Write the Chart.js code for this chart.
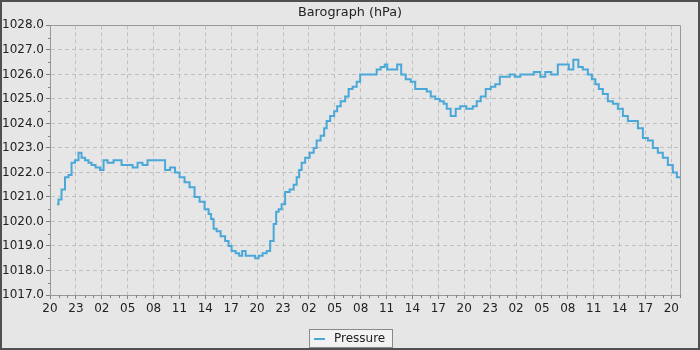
<!DOCTYPE html>
<html>
<head>
<meta charset="utf-8">
<script src="https://cdn.jsdelivr.net/npm/chart.js@4.4.1/dist/chart.umd.min.js"></script>
<style>
  html, body { margin: 0; padding: 0; background: #e6e6e6; }
  canvas { display: block; }
</style>
</head>
<body>
<canvas id="c" width="700" height="350"></canvas>
<script>
// Hours elapsed since the first axis tick (20:00)
const hours = [
  0.81, 1.16, 1.51, 1.97, 2.32, 2.67, 3.13, 3.48, 3.83, 4.29, 4.64, 4.99, 5.57, 6.03, 6.38, 6.96,
  7.77, 8.12, 8.46, 9.28, 9.86, 10.43, 11.01, 11.59, 12.17, 12.52, 13.10, 13.57, 14.26, 14.72, 15.30,
  15.88, 16.46, 17.04, 17.62, 18.20, 18.55, 18.78, 19.13, 19.48, 20.06, 20.52, 20.87, 21.22, 21.80,
  22.03, 22.49, 22.84, 23.54, 24.00, 24.35, 24.93, 25.28, 25.74, 26.09, 26.32, 26.67, 27.01, 27.48,
  28.06, 28.41, 28.75, 28.99, 29.33, 29.80, 30.38, 30.72, 31.07, 31.65, 31.88, 32.23, 32.70, 33.16,
  33.39, 33.97, 34.43, 34.78, 35.36, 35.71, 36.17, 36.75, 37.68, 38.03, 38.61, 38.96, 39.19, 40.00,
  40.46, 40.93, 41.51, 42.09, 42.55, 43.48, 43.83, 44.41, 44.87, 45.45, 45.80, 46.14, 46.72, 47.30,
  47.77, 48.70, 49.28, 49.62, 50.20, 50.78, 51.36, 51.83, 52.41, 52.99, 53.57, 54.14, 54.84, 55.65,
  56.46, 57.16, 57.62, 58.55, 59.13, 59.94, 60.29, 60.99, 61.45, 62.03, 62.61, 62.96, 63.42, 63.77,
  64.35, 64.93, 65.51, 66.09, 66.67, 67.25, 67.83, 68.41, 68.99, 69.57, 70.14, 70.72, 71.30, 71.88,
  72.46, 72.81, 73.00
];
const pressure = [
  1020.7, 1020.9, 1021.3, 1021.8, 1021.9, 1022.4, 1022.5, 1022.8, 1022.6, 1022.5, 1022.4, 1022.3, 1022.2, 1022.1, 1022.5, 1022.4,
  1022.5, 1022.5, 1022.3, 1022.3, 1022.2, 1022.4, 1022.3, 1022.5, 1022.5, 1022.5, 1022.5, 1022.1, 1022.2, 1022.0, 1021.8,
  1021.6, 1021.4, 1021.0, 1020.8, 1020.5, 1020.3, 1020.1, 1019.7, 1019.6, 1019.4, 1019.2, 1019.0, 1018.8, 1018.7,
  1018.6, 1018.8, 1018.6, 1018.6, 1018.5, 1018.6, 1018.7, 1018.8, 1019.2, 1019.9, 1020.4, 1020.5, 1020.7, 1021.2,
  1021.3, 1021.5, 1021.8, 1022.1, 1022.4, 1022.6, 1022.8, 1023.0, 1023.3, 1023.5, 1023.8, 1024.1, 1024.3, 1024.5,
  1024.7, 1024.9, 1025.1, 1025.4, 1025.5, 1025.7, 1026.0, 1026.0, 1026.0, 1026.2, 1026.3, 1026.4, 1026.2, 1026.2,
  1026.4, 1026.0, 1025.8, 1025.7, 1025.4, 1025.4, 1025.3, 1025.1, 1025.0, 1024.9, 1024.8, 1024.6, 1024.3, 1024.6,
  1024.7, 1024.6, 1024.7, 1024.9, 1025.1, 1025.4, 1025.5, 1025.6, 1025.9, 1025.9, 1026.0, 1025.9, 1026.0, 1026.0,
  1026.1, 1025.9, 1026.1, 1026.0, 1026.4, 1026.4, 1026.2, 1026.6, 1026.3, 1026.2, 1026.0, 1025.8, 1025.6, 1025.4,
  1025.2, 1024.9, 1024.8, 1024.6, 1024.3, 1024.1, 1024.1, 1023.8, 1023.4, 1023.3, 1023.0, 1022.8, 1022.6, 1022.3,
  1022.0, 1021.8, 1021.8
];
const startHour = 20;       // clock hour at x = 0
const xMax = 73;            // hours shown
const yMin = 1017, yMax = 1028;
const seriesLabel = 'Pressure';
const chartTitle = 'Barograph (hPa)';

const FONT = 'DejaVu Sans';
const LINE = '#4aa8d8';
const AXIS = '#999999';
const GRID = '#c0c0c0';
const TXT = '#222222';

const decor = {
  id: 'decor',
  beforeDraw(chart) {
    const ctx = chart.ctx;
    ctx.save();
    ctx.fillStyle = '#e6e6e6';
    ctx.fillRect(0, 0, chart.width, chart.height);
    ctx.restore();
  },
  afterDraw(chart) {
    const ctx = chart.ctx;
    const a = chart.chartArea;
    const xs = chart.scales.x, ys = chart.scales.y;
    ctx.save();
    // plot outline top/right
    ctx.strokeStyle = AXIS;
    ctx.lineWidth = 1;
    ctx.beginPath();
    ctx.moveTo(Math.round(a.left) + 0.5, Math.round(a.top) + 0.5);
    ctx.lineTo(Math.round(a.right) + 0.5, Math.round(a.top) + 0.5);
    ctx.lineTo(Math.round(a.right) + 0.5, Math.round(a.bottom) + 0.5);
    ctx.stroke();
    // minor ticks
    ctx.strokeStyle = '#808080';
    ctx.beginPath();
    for (let h = 1; h <= xMax; h++) {
      if (h % 3 === 0) continue;
      const px = Math.round(xs.getPixelForValue(h)) + 0.5;
      ctx.moveTo(px, Math.round(a.bottom));
      ctx.lineTo(px, Math.round(a.bottom) + 3);
    }
    for (let v = yMin + 0.5; v < yMax; v += 1) {
      const py = Math.round(ys.getPixelForValue(v)) + 0.5;
      ctx.moveTo(Math.round(a.left) - 2, py);
      ctx.lineTo(Math.round(a.left), py);
    }
    ctx.stroke();
    // legend
    const lx = 309.5, ly = 329.5, lw = 83, lh = 18;
    ctx.fillStyle = '#f2f2f2';
    ctx.fillRect(lx, ly, lw, lh);
    ctx.strokeStyle = '#8a8a8a';
    ctx.strokeRect(lx, ly, lw, lh);
    ctx.strokeStyle = LINE;
    ctx.lineWidth = 2;
    ctx.beginPath();
    ctx.moveTo(314, 339);
    ctx.lineTo(325, 339);
    ctx.stroke();
    ctx.fillStyle = TXT;
    ctx.font = '12px "' + FONT + '"';
    ctx.textBaseline = 'middle';
    ctx.textAlign = 'left';
    ctx.fillText(chart.data.datasets[0].label, 334, 338.5);
    // outer border
    ctx.strokeStyle = '#505050';
    ctx.lineWidth = 2;
    ctx.strokeRect(1, 1, chart.width - 2, chart.height - 2);
    ctx.restore();
  }
};

new Chart(document.getElementById('c'), {
  type: 'line',
  data: {
    datasets: [{
      label: seriesLabel,
      data: hours.map((h, i) => ({ x: h, y: pressure[i] })),
      borderColor: LINE,
      backgroundColor: LINE,
      borderWidth: 2,
      pointRadius: 0,
      stepped: 'middle',
      fill: false,
      yAxisID: 'y'
    }]
  },
  options: {
    responsive: false,
    animation: false,
    devicePixelRatio: 1,
    layout: { padding: { left: 2, right: 2, top: 0, bottom: 0 } },
    plugins: {
      legend: { display: false },
      tooltip: { enabled: false },
      title: {
        display: true,
        text: chartTitle,
        color: TXT,
        font: { family: FONT, size: 12.8, weight: 'normal' },
        padding: { top: 5, bottom: 5 }
      }
    },
    scales: {
      x: {
        type: 'linear',
        min: 0,
        max: xMax,
        afterFit(s) { s.height = 55; },
        border: { color: AXIS, width: 1, dash: [4, 3] },
        grid: { color: GRID, lineWidth: 1, tickLength: 4, tickColor: '#808080', tickBorderDash: [] },
        ticks: {
          stepSize: 3,
          includeBounds: false,
          autoSkip: false,
          maxRotation: 0,
          padding: 3,
          color: TXT,
          font: { family: FONT, size: 12 },
          callback: (v) => String((startHour + v) % 24).padStart(2, '0')
        }
      },
      y: {
        position: 'left',
        min: yMin,
        max: yMax,
        afterFit(s) { s.width = 48; },
        border: { color: AXIS, width: 1, dash: [4, 3] },
        grid: { color: GRID, lineWidth: 1, tickLength: 4, tickColor: '#808080', tickBorderDash: [] },
        ticks: {
          stepSize: 1,
          padding: 2,
          color: TXT,
          font: { family: FONT, size: 12 },
          callback: (v) => v.toFixed(1)
        }
      },
      yRight: {
        position: 'right',
        min: yMin,
        max: yMax,
        afterFit(s) { s.width = 18; },
        border: { display: false },
        grid: { display: false, drawTicks: false },
        ticks: { display: false }
      }
    }
  },
  plugins: [decor]
});
</script>
</body>
</html>
